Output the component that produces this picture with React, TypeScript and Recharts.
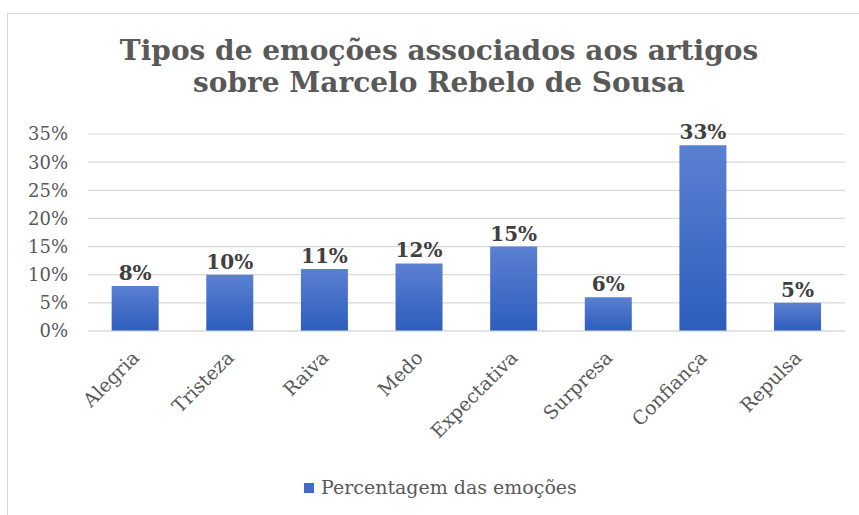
import { Bar, BarChart, CartesianGrid, LabelList, XAxis, YAxis } from 'recharts'

const categories = ['Alegria', 'Tristeza', 'Raiva', 'Medo', 'Expectativa', 'Surpresa', 'Confiança', 'Repulsa']
const percentages = [8, 10, 11, 12, 15, 6, 33, 5]
const yTicks = [0, 5, 10, 15, 20, 25, 30, 35]
const seriesName = 'Percentagem das emoções'
const titleLines = ['Tipos de emoções associados aos artigos', 'sobre Marcelo Rebelo de Sousa']

const FONT = "'DejaVu Serif', 'Liberation Serif', serif"
const GREY = '#595959'

const chartData = categories.map((name, i) => ({ name, value: percentages[i] }))

function XTick({ x, y, payload }: any) {
  return (
    <text
      transform={`translate(${x + 5},${y + 26}) rotate(-45)`}
      textAnchor="end"
      fontFamily={FONT}
      fontSize={19}
      fill={GREY}
    >
      {payload.value}
    </text>
  )
}

export default function App() {
  return (
    <div style={{ position: 'absolute', left: 0, top: 0, width: 859, height: 515, background: '#fff', overflow: 'hidden' }}>
      <div
        style={{
          position: 'absolute',
          left: 7,
          top: 13,
          width: 860,
          height: 520,
          border: '1px solid #d9d9d9',
        }}
      />
      <div
        style={{
          position: 'absolute',
          left: 0,
          top: 35,
          width: 878,
          textAlign: 'center',
          fontFamily: FONT,
          fontWeight: 'bold',
          fontSize: 28,
          lineHeight: '32px',
          color: GREY,
        }}
      >
        {titleLines.map((t) => (
          <div key={t}>{t}</div>
        ))}
      </div>
      <div style={{ position: 'absolute', left: 0, top: 0 }}>
        <BarChart
          width={859}
          height={515}
          data={chartData}
          margin={{ top: 134, right: 14, left: 0, bottom: 64 }}
          barCategoryGap="25%"
        >
          <defs>
            <linearGradient id="barFill" x1="0" y1="0" x2="0" y2="1">
              <stop offset="0%" stopColor="#5b80d2" />
              <stop offset="100%" stopColor="#2d5dbd" />
            </linearGradient>
          </defs>
          <CartesianGrid vertical={false} stroke="#d9d9d9" strokeWidth={1.2} />
          <XAxis
            dataKey="name"
            height={120}
            interval={0}
            tick={<XTick />}
            tickLine={false}
            axisLine={{ stroke: '#d9d9d9', strokeWidth: 1.2 }}
            tickSize={0}
          />
          <YAxis
            width={88}
            domain={[0, 35]}
            ticks={yTicks}
            interval={0}
            tickFormatter={(v) => `${v}%`}
            tickLine={false}
            axisLine={false}
            tickSize={0}
            tickMargin={20}
            tick={{ fontFamily: FONT, fontSize: 18, fill: GREY }}
          />
          <Bar dataKey="value" name={seriesName} fill="url(#barFill)" isAnimationActive={false}>
            <LabelList
              dataKey="value"
              position="top"
              offset={6}
              formatter={(v: any) => `${v}%`}
              style={{ fontFamily: FONT, fontSize: 20, fontWeight: 'bold', fill: '#404040' }}
            />
          </Bar>
        </BarChart>
      </div>
      {/* legend drawn as svg so the serif matches the tick labels */}
      <svg style={{ position: 'absolute', left: 300, top: 474 }} width={330} height={28}>
        <rect x={4} y={9} width={10} height={10} fill="#3f6cc9" />
        <text x={21} y={20} fontFamily={FONT} fontSize={19} fill={GREY}>
          {seriesName}
        </text>
      </svg>
    </div>
  )
}
